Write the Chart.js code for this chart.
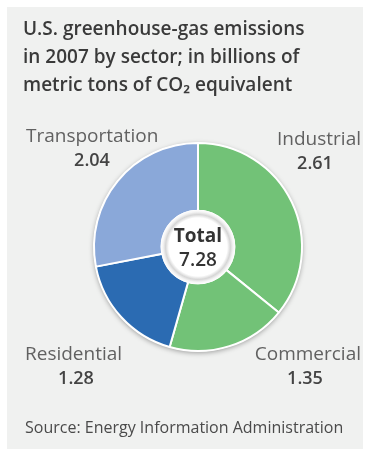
<!DOCTYPE html>
<html>
<head>
<meta charset="utf-8">
<script src="https://cdn.jsdelivr.net/npm/chart.js@4/dist/chart.umd.min.js"></script>
<style>
  html, body { margin: 0; padding: 0; background: #ffffff; }
  #wrap { position: relative; width: 368px; height: 458px; }
</style>
</head>
<body>
<div id="wrap"><canvas id="c" width="368" height="458"></canvas></div>
<script>
// Sectors, drawn clockwise from 12 o'clock
const sectors = ['Industrial', 'Commercial', 'Residential', 'Transportation'];
const emissions = [2.61, 1.35, 1.28, 2.04];
const sectorColors = ['#72c277', '#72c277', '#2b6bb2', '#8aa8d9'];

const titleLines = [
  'U.S. greenhouse-gas emissions',
  'in 2007 by sector; in billions of',
  'metric tons of CO\u2082 equivalent'
];
const sourceNote = 'Source: Energy Information Administration';

const total = emissions.reduce((a, b) => a + b, 0);

// Label anchors for each sector: [x, baseline y, alignment]
const labelSpots = {
  Industrial:     { x: 361, y: 145, align: 'right', valueX: 315 },
  Commercial:     { x: 361, y: 360, align: 'right', valueX: 305 },
  Residential:    { x: 25,  y: 360, align: 'left',  valueX: 76 },
  Transportation: { x: 26,  y: 142, align: 'left',  valueX: 92 }
};

const panelPlugin = {
  id: 'panel',
  beforeDraw(chart) {
    const ctx = chart.ctx;
    ctx.save();
    ctx.fillStyle = '#f0f1f0';
    ctx.fillRect(7, 7, 356, 442);
    ctx.restore();
  }
};

const ringShadow = {
  id: 'ringShadow',
  beforeDatasetsDraw(chart) {
    const arc = chart.getDatasetMeta(0).data[0];
    if (!arc) return;
    const ctx = chart.ctx;
    ctx.save();
    ctx.shadowColor = 'rgba(0,0,0,0.35)';
    ctx.shadowBlur = 5;
    ctx.shadowOffsetY = 1.5;
    ctx.beginPath();
    ctx.arc(arc.x, arc.y, arc.outerRadius + 0.5, 0, Math.PI * 2);
    ctx.fillStyle = '#ffffff';
    ctx.fill();
    ctx.restore();
  }
};

const centerDisc = {
  id: 'centerDisc',
  afterDatasetsDraw(chart) {
    const arc = chart.getDatasetMeta(0).data[0];
    if (!arc) return;
    const ctx = chart.ctx;
    const cx = arc.x, cy = arc.y, r = arc.innerRadius + 1;
    ctx.save();
    const g = ctx.createRadialGradient(cx, cy, 0, cx, cy, r);
    g.addColorStop(0, '#ffffff');
    g.addColorStop(0.78, '#ffffff');
    g.addColorStop(0.87, '#d6d6d6');
    g.addColorStop(0.94, '#f4f4f4');
    g.addColorStop(1, '#ffffff');
    ctx.beginPath();
    ctx.arc(cx, cy, r, 0, Math.PI * 2);
    ctx.fillStyle = g;
    ctx.fill();

    ctx.fillStyle = '#333333';
    ctx.textAlign = 'center';
    ctx.textBaseline = 'alphabetic';
    ctx.font = '700 19px "Open Sans"';
    ctx.fillText('Total', cx, cy - 5);
    ctx.font = '600 19px "Open Sans"';
    ctx.fillText(total.toFixed(2), cx, cy + 19);
    ctx.restore();
  }
};

const textPlugin = {
  id: 'texts',
  afterDraw(chart) {
    const ctx = chart.ctx;
    ctx.save();
    ctx.textBaseline = 'alphabetic';

    // Title
    ctx.fillStyle = '#3a3a3a';
    ctx.textAlign = 'left';
    ctx.font = '600 19px "Open Sans"';
    const tl = [35, 63, 91];
    titleLines.forEach((t, i) => ctx.fillText(t, 23, tl[i]));

    // Sector labels and values
    sectors.forEach((name, i) => {
      const s = labelSpots[name];
      ctx.textAlign = s.align;
      ctx.fillStyle = '#616161';
      ctx.font = '400 19px "Open Sans"';
      ctx.fillText(name, s.x, s.y);
      ctx.textAlign = 'center';
      ctx.fillStyle = '#444444';
      ctx.font = '600 18px "Open Sans"';
      ctx.fillText(emissions[i].toFixed(2), s.valueX, s.y + 24);
    });

    // Source
    ctx.textAlign = 'left';
    ctx.fillStyle = '#4a4a4a';
    ctx.font = '400 16px "Open Sans"';
    ctx.fillText(sourceNote, 25, 433);
    ctx.restore();
  }
};

new Chart(document.getElementById('c'), {
  type: 'doughnut',
  data: {
    labels: sectors,
    datasets: [{
      data: emissions,
      backgroundColor: sectorColors,
      borderColor: '#ffffff',
      borderWidth: 2,
      radius: 104,
      cutout: 37
    }]
  },
  options: {
    responsive: false,
    animation: false,
    events: [],
    layout: { padding: { left: 80, right: 52, top: 140, bottom: 104 } },
    plugins: {
      legend: { display: false },
      title: { display: false },
      tooltip: { enabled: false }
    }
  },
  plugins: [panelPlugin, ringShadow, centerDisc, textPlugin]
});
</script>
</body>
</html>
